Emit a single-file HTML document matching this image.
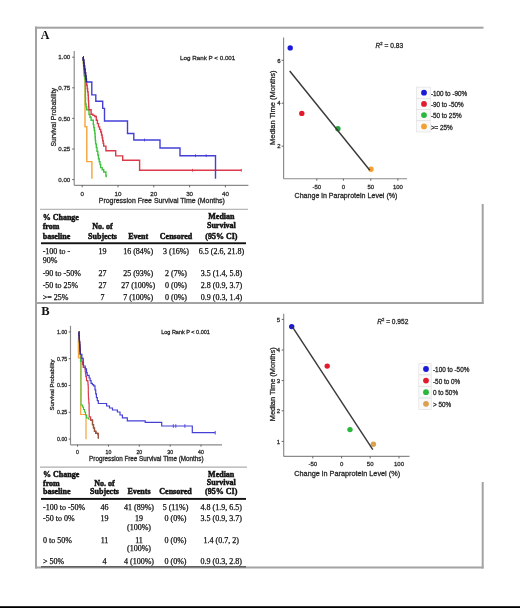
<!DOCTYPE html>
<html><head><meta charset="utf-8"><style>
html,body{margin:0;padding:0;background:#fff;}
svg{display:block;filter:blur(0.5px);}
</style></head><body>
<svg width="520" height="608" viewBox="0 0 520 608">
<rect x="0" y="0" width="520" height="608" fill="#fff"/>
<rect x="35" y="26.7" width="448.5" height="2" fill="#a3a3a3"/>
<rect x="35" y="26.5" width="2" height="542" fill="#a3a3a3"/>
<rect x="481.7" y="204" width="2" height="100" fill="#a3a3a3"/>
<rect x="35" y="302" width="448.5" height="2" fill="#a3a3a3"/>
<rect x="481.7" y="482" width="2" height="86.5" fill="#a3a3a3"/>
<rect x="35" y="566.5" width="448.5" height="2" fill="#a3a3a3"/>
<rect x="0" y="606.2" width="520" height="1.8" fill="#000"/>
<text x="40.8" y="39.2" font-family="Liberation Serif, serif" font-weight="bold" font-size="12" fill="#111">A</text>
<text x="41.3" y="315" font-family="Liberation Serif, serif" font-weight="bold" font-size="12.5" fill="#111">B</text>
<line x1="74.2" y1="51" x2="74.2" y2="185.3" stroke="#8a8a8a" stroke-width="1.15"/>
<line x1="74.2" y1="185.3" x2="248.4" y2="185.3" stroke="#8a8a8a" stroke-width="1.15"/>
<line x1="72.2" y1="57.2" x2="74.2" y2="57.2" stroke="#555" stroke-width="0.9"/>
<text x="70.3" y="59.4" font-family="Liberation Sans, sans-serif" stroke="#2a2a2a" stroke-width="0.28" font-size="6.2" text-anchor="end" fill="#333">1.00</text>
<line x1="72.2" y1="87.8" x2="74.2" y2="87.8" stroke="#555" stroke-width="0.9"/>
<text x="70.3" y="90.0" font-family="Liberation Sans, sans-serif" stroke="#2a2a2a" stroke-width="0.28" font-size="6.2" text-anchor="end" fill="#333">0.75</text>
<line x1="72.2" y1="118.4" x2="74.2" y2="118.4" stroke="#555" stroke-width="0.9"/>
<text x="70.3" y="120.6" font-family="Liberation Sans, sans-serif" stroke="#2a2a2a" stroke-width="0.28" font-size="6.2" text-anchor="end" fill="#333">0.50</text>
<line x1="72.2" y1="149" x2="74.2" y2="149" stroke="#555" stroke-width="0.9"/>
<text x="70.3" y="151.2" font-family="Liberation Sans, sans-serif" stroke="#2a2a2a" stroke-width="0.28" font-size="6.2" text-anchor="end" fill="#333">0.25</text>
<line x1="72.2" y1="179.6" x2="74.2" y2="179.6" stroke="#555" stroke-width="0.9"/>
<text x="70.3" y="181.8" font-family="Liberation Sans, sans-serif" stroke="#2a2a2a" stroke-width="0.28" font-size="6.2" text-anchor="end" fill="#333">0.00</text>
<line x1="82.2" y1="185.3" x2="82.2" y2="187.3" stroke="#555" stroke-width="0.9"/>
<text x="82.2" y="195.8" font-family="Liberation Sans, sans-serif" stroke="#2a2a2a" stroke-width="0.28" font-size="6.2" text-anchor="middle" fill="#333">0</text>
<line x1="118" y1="185.3" x2="118" y2="187.3" stroke="#555" stroke-width="0.9"/>
<text x="118" y="195.8" font-family="Liberation Sans, sans-serif" stroke="#2a2a2a" stroke-width="0.28" font-size="6.2" text-anchor="middle" fill="#333">10</text>
<line x1="153.8" y1="185.3" x2="153.8" y2="187.3" stroke="#555" stroke-width="0.9"/>
<text x="153.8" y="195.8" font-family="Liberation Sans, sans-serif" stroke="#2a2a2a" stroke-width="0.28" font-size="6.2" text-anchor="middle" fill="#333">20</text>
<line x1="189.6" y1="185.3" x2="189.6" y2="187.3" stroke="#555" stroke-width="0.9"/>
<text x="189.6" y="195.8" font-family="Liberation Sans, sans-serif" stroke="#2a2a2a" stroke-width="0.28" font-size="6.2" text-anchor="middle" fill="#333">30</text>
<line x1="225.4" y1="185.3" x2="225.4" y2="187.3" stroke="#555" stroke-width="0.9"/>
<text x="225.4" y="195.8" font-family="Liberation Sans, sans-serif" stroke="#2a2a2a" stroke-width="0.28" font-size="6.2" text-anchor="middle" fill="#333">40</text>
<text x="161.8" y="203.0" font-family="Liberation Sans, sans-serif" stroke="#2a2a2a" stroke-width="0.28" font-size="6.95" text-anchor="middle" fill="#222">Progression Free Survival Time (Months)</text>
<text transform="translate(56.1,117.3) rotate(-90)" font-family="Liberation Sans, sans-serif" stroke="#2a2a2a" stroke-width="0.28" font-size="6.9" text-anchor="middle" fill="#222">Survival Probability</text>
<polyline points="83.0,57.0 83.2,57.0 83.2,60.0 83.3,60.0 83.3,63.0 83.5,63.0 83.5,66.0 83.7,66.0 83.7,69.0 83.8,69.0 83.8,72.0 84.0,72.0 84.0,75.0 84.5,75.0 84.5,77.5 85.0,77.5 85.0,80.0 85.0,126.8 86.8,126.8 86.8,161.6 91.9,161.6 91.9,178.8" fill="none" stroke="#f4a43a" stroke-width="1.4" stroke-linejoin="miter"/>
<polyline points="83.0,57.0 83.2,57.0 83.2,60.2 83.5,60.2 83.5,63.3 83.8,63.3 83.8,66.5 84.0,66.5 84.0,69.7 84.2,69.7 84.2,72.8 84.5,72.8 84.5,76.0 84.9,76.0 84.9,79.0 85.3,79.0 85.3,82.0 85.3,82.0 85.3,85.1 85.4,85.1 85.4,88.3 85.4,88.3 85.4,91.4 85.4,91.4 85.4,94.6 85.4,94.6 85.4,97.7 85.5,97.7 85.5,100.9 85.5,100.9 85.5,104.0 86.1,104.0 86.1,106.9 86.7,106.9 86.7,109.8 89.0,109.8 89.0,114.5 90.0,114.5 90.0,117.3 91.1,117.3 91.1,120.2 93.3,120.2 93.3,124.6 93.8,124.6 93.8,127.6 94.3,127.6 94.3,130.5 94.8,130.5 94.8,133.5 95.1,133.5 95.1,137.0 95.3,137.0 95.3,140.4 95.6,140.4 95.6,143.9 96.3,143.9 96.3,147.6 97.0,147.6 97.0,151.3 97.8,151.3 97.8,155.0 98.5,155.0 98.5,158.7 99.2,158.7 99.2,161.7 100.0,161.7 100.0,164.6 100.7,164.6 100.7,167.6 102.2,167.6 102.2,169.8 103.7,169.8 103.7,172.0 105.9,172.0 105.9,175.7 106.2,175.7 106.2,177.2" fill="none" stroke="#3cc43c" stroke-width="1.4" stroke-linejoin="miter"/>
<polyline points="83.0,57.0 83.3,57.0 83.3,60.0 83.7,60.0 83.7,63.0 84.0,63.0 84.0,66.0 84.5,66.0 84.5,69.3 85.0,69.3 85.0,72.7 85.5,72.7 85.5,76.0 85.8,76.0 85.8,79.0 86.2,79.0 86.2,82.0 86.7,82.0 86.7,85.2 87.2,85.2 87.2,88.5 87.6,88.5 87.6,91.8 88.1,91.8 88.1,95.0 88.3,95.0 88.3,98.0 88.4,98.0 88.4,100.9 88.6,100.9 88.6,103.9 88.7,103.9 88.7,106.8 88.9,106.8 88.9,109.8 91.1,109.8 91.1,114.3 92.9,114.3 92.9,115.4 94.8,115.4 94.8,116.5 96.3,116.5 96.3,120.2 97.4,120.2 97.4,123.6 98.5,123.6 98.5,126.9 99.6,126.9 99.6,129.4 100.7,129.4 100.7,132.0 101.5,132.0 101.5,135.0 102.2,135.0 102.2,138.0 102.7,138.0 102.7,140.7 103.2,140.7 103.2,143.4 103.7,143.4 103.7,146.1 105.9,146.1 105.9,150.8 115.7,150.8 115.7,155.9 122.7,155.9 122.7,160.2 139.6,160.2 139.6,170.3 241.5,170.3" fill="none" stroke="#dc3a4a" stroke-width="1.4" stroke-linejoin="miter"/>
<polyline points="83.0,57.0 83.3,57.0 83.3,60.0 83.7,60.0 83.7,63.0 84.0,63.0 84.0,66.0 84.5,66.0 84.5,69.3 85.0,69.3 85.0,72.7 85.5,72.7 85.5,76.0 86.0,76.0 86.0,79.0 86.4,79.0 86.4,82.0 91.8,82.0 91.8,94.9 95.8,94.9 95.8,101.3 102.7,101.3 102.7,108.4 104.5,108.4 104.5,121.0 127.5,121.0 127.5,133.5 133.8,133.5 133.8,140.0 160.0,140.0 160.0,148.0 180.0,148.0 180.0,155.7 215.5,155.7 215.5,178.8" fill="none" stroke="#4440d6" stroke-width="1.4" stroke-linejoin="miter"/>
<polyline points="83.0,57.0 83.3,57.0 83.3,60.0 83.7,60.0 83.7,63.0 84.0,63.0 84.0,66.0 84.5,66.0 84.5,69.3 85.0,69.3 85.0,72.7 85.5,72.7 85.5,76.0 86.0,76.0 86.0,79.0 86.4,79.0 86.4,82.0" fill="none" stroke="#2c2a78" stroke-width="1.4" stroke-linejoin="miter"/>
<line x1="192.5" y1="168.9" x2="192.5" y2="171.70000000000002" stroke="#dc3a4a" stroke-width="0.9"/>
<line x1="241.3" y1="168.9" x2="241.3" y2="171.70000000000002" stroke="#dc3a4a" stroke-width="0.9"/>
<line x1="144.5" y1="138.6" x2="144.5" y2="141.4" stroke="#4440d6" stroke-width="0.9"/>
<line x1="195.5" y1="154.29999999999998" x2="195.5" y2="157.1" stroke="#4440d6" stroke-width="0.9"/>
<line x1="206.2" y1="154.29999999999998" x2="206.2" y2="157.1" stroke="#4440d6" stroke-width="0.9"/>
<text x="180" y="60.3" font-family="Liberation Sans, sans-serif" stroke="#2a2a2a" stroke-width="0.28" font-size="6.25" fill="#222">Log Rank P &lt; 0.001</text>
<line x1="283.6" y1="37.5" x2="283.6" y2="178.7" stroke="#8a8a8a" stroke-width="1.15"/>
<line x1="283.6" y1="178.7" x2="407" y2="178.7" stroke="#8a8a8a" stroke-width="1.15"/>
<line x1="281.6" y1="60.3" x2="283.6" y2="60.3" stroke="#555" stroke-width="0.9"/>
<text x="280.6" y="62.5" font-family="Liberation Sans, sans-serif" stroke="#2a2a2a" stroke-width="0.28" font-size="6" text-anchor="end" fill="#333">6</text>
<line x1="281.6" y1="103.2" x2="283.6" y2="103.2" stroke="#555" stroke-width="0.9"/>
<text x="280.6" y="105.4" font-family="Liberation Sans, sans-serif" stroke="#2a2a2a" stroke-width="0.28" font-size="6" text-anchor="end" fill="#333">4</text>
<line x1="281.6" y1="146.2" x2="283.6" y2="146.2" stroke="#555" stroke-width="0.9"/>
<text x="280.6" y="148.4" font-family="Liberation Sans, sans-serif" stroke="#2a2a2a" stroke-width="0.28" font-size="6" text-anchor="end" fill="#333">2</text>
<line x1="316.8" y1="178.7" x2="316.8" y2="180.7" stroke="#555" stroke-width="0.9"/>
<text x="316.8" y="189.3" font-family="Liberation Sans, sans-serif" stroke="#2a2a2a" stroke-width="0.28" font-size="6" text-anchor="middle" fill="#333">-50</text>
<line x1="343.4" y1="178.7" x2="343.4" y2="180.7" stroke="#555" stroke-width="0.9"/>
<text x="343.4" y="189.3" font-family="Liberation Sans, sans-serif" stroke="#2a2a2a" stroke-width="0.28" font-size="6" text-anchor="middle" fill="#333">0</text>
<line x1="370.8" y1="178.7" x2="370.8" y2="180.7" stroke="#555" stroke-width="0.9"/>
<text x="370.8" y="189.3" font-family="Liberation Sans, sans-serif" stroke="#2a2a2a" stroke-width="0.28" font-size="6" text-anchor="middle" fill="#333">50</text>
<line x1="397.9" y1="178.7" x2="397.9" y2="180.7" stroke="#555" stroke-width="0.9"/>
<text x="397.9" y="189.3" font-family="Liberation Sans, sans-serif" stroke="#2a2a2a" stroke-width="0.28" font-size="6" text-anchor="middle" fill="#333">100</text>
<text x="346" y="197.6" font-family="Liberation Sans, sans-serif" stroke="#2a2a2a" stroke-width="0.28" font-size="7.1" text-anchor="middle" fill="#222">Change in Paraprotein Level (%)</text>
<text transform="translate(274.5,107.7) rotate(-90)" font-family="Liberation Sans, sans-serif" stroke="#2a2a2a" stroke-width="0.28" font-size="7.5" text-anchor="middle" fill="#222">Median Time (Months)</text>
<circle cx="290.2" cy="47.9" r="2.7" fill="#1a1ad8"/>
<circle cx="301.8" cy="113.4" r="2.7" fill="#e21a2e"/>
<circle cx="337.9" cy="128.8" r="2.7" fill="#22a83a"/>
<circle cx="371" cy="169.3" r="2.7" fill="#f4a030"/>
<line x1="289.7" y1="71" x2="369.8" y2="170.2" stroke="#3a3a3a" stroke-width="1.45"/>
<text x="375.6" y="47.7" font-family="Liberation Sans, sans-serif" stroke="#2a2a2a" stroke-width="0.28" font-size="6.6" fill="#222"><tspan font-style="italic">R</tspan><tspan font-size="4.2" dy="-2.8">2</tspan><tspan dy="2.8"> = 0.83</tspan></text>
<rect x="416.4" y="87.10000000000001" width="13.8" height="11.2" fill="#fafafa" stroke="#dedede" stroke-width="0.6"/>
<circle cx="424" cy="92.7" r="2.9" fill="#1a1ad8"/>
<text x="430.9" y="95.8" font-family="Liberation Sans, sans-serif" stroke="#2a2a2a" stroke-width="0.28" font-size="6.35" fill="#222">-100 to -90%</text>
<rect x="416.4" y="98.30000000000001" width="13.8" height="11.2" fill="#fafafa" stroke="#dedede" stroke-width="0.6"/>
<circle cx="424" cy="103.9" r="2.9" fill="#e21a2e"/>
<text x="430.9" y="107.0" font-family="Liberation Sans, sans-serif" stroke="#2a2a2a" stroke-width="0.28" font-size="6.35" fill="#222">-90 to -50%</text>
<rect x="416.4" y="109.5" width="13.8" height="11.2" fill="#fafafa" stroke="#dedede" stroke-width="0.6"/>
<circle cx="424" cy="115.1" r="2.9" fill="#2ab83a"/>
<text x="430.9" y="118.2" font-family="Liberation Sans, sans-serif" stroke="#2a2a2a" stroke-width="0.28" font-size="6.35" fill="#222">-50 to 25%</text>
<rect x="416.4" y="120.80000000000001" width="13.8" height="11.2" fill="#fafafa" stroke="#dedede" stroke-width="0.6"/>
<circle cx="424" cy="126.4" r="2.9" fill="#f4a030"/>
<text x="430.9" y="129.5" font-family="Liberation Sans, sans-serif" stroke="#2a2a2a" stroke-width="0.28" font-size="6.35" fill="#222">&gt;= 25%</text>
<rect x="40" y="208.8" width="208" height="0.9" fill="#9a9a9a"/>
<rect x="41" y="242.3" width="205" height="1.9" fill="#111"/>
<text x="42.7" y="220.2" font-family="Liberation Serif, serif" font-size="8" font-weight="bold" text-anchor="start" fill="#111" stroke="#111" stroke-width="0.45">% Change</text>
<text x="42.7" y="229.4" font-family="Liberation Serif, serif" font-size="8" font-weight="bold" text-anchor="start" fill="#111" stroke="#111" stroke-width="0.45">from</text>
<text x="42.7" y="238.8" font-family="Liberation Serif, serif" font-size="8" font-weight="bold" text-anchor="start" fill="#111" stroke="#111" stroke-width="0.45">baseline</text>
<text x="102.5" y="229.4" font-family="Liberation Serif, serif" font-size="8" font-weight="bold" text-anchor="middle" fill="#111" stroke="#111" stroke-width="0.45">No. of</text>
<text x="102.5" y="238.8" font-family="Liberation Serif, serif" font-size="8" font-weight="bold" text-anchor="middle" fill="#111" stroke="#111" stroke-width="0.45">Subjects</text>
<text x="138.2" y="238.8" font-family="Liberation Serif, serif" font-size="8" font-weight="bold" text-anchor="middle" fill="#111" stroke="#111" stroke-width="0.45">Event</text>
<text x="176" y="238.8" font-family="Liberation Serif, serif" font-size="8" font-weight="bold" text-anchor="middle" fill="#111" stroke="#111" stroke-width="0.45">Censored</text>
<text x="221.4" y="218.8" font-family="Liberation Serif, serif" font-size="8" font-weight="bold" text-anchor="middle" fill="#111" stroke="#111" stroke-width="0.45">Median</text>
<text x="221.4" y="228.3" font-family="Liberation Serif, serif" font-size="8" font-weight="bold" text-anchor="middle" fill="#111" stroke="#111" stroke-width="0.45">Survival</text>
<text x="221.4" y="238.8" font-family="Liberation Serif, serif" font-size="8" font-weight="bold" text-anchor="middle" fill="#111" stroke="#111" stroke-width="0.45">(95% CI)</text>
<text x="42.7" y="254.2" font-family="Liberation Serif, serif" font-size="8" text-anchor="start" fill="#111" stroke="#111" stroke-width="0.25">-100 to -</text>
<text x="102.5" y="254.2" font-family="Liberation Serif, serif" font-size="8" text-anchor="middle" fill="#111" stroke="#111" stroke-width="0.25">19</text>
<text x="138.2" y="254.2" font-family="Liberation Serif, serif" font-size="8" text-anchor="middle" fill="#111" stroke="#111" stroke-width="0.25">16 (84%)</text>
<text x="176" y="254.2" font-family="Liberation Serif, serif" font-size="8" text-anchor="middle" fill="#111" stroke="#111" stroke-width="0.25">3 (16%)</text>
<text x="221.4" y="254.2" font-family="Liberation Serif, serif" font-size="8" text-anchor="middle" fill="#111" stroke="#111" stroke-width="0.25">6.5 (2.6, 21.8)</text>
<text x="42.7" y="263.3" font-family="Liberation Serif, serif" font-size="8" text-anchor="start" fill="#111" stroke="#111" stroke-width="0.25">90%</text>
<text x="42.7" y="275.8" font-family="Liberation Serif, serif" font-size="8" text-anchor="start" fill="#111" stroke="#111" stroke-width="0.25">-90 to -50%</text>
<text x="102.5" y="275.8" font-family="Liberation Serif, serif" font-size="8" text-anchor="middle" fill="#111" stroke="#111" stroke-width="0.25">27</text>
<text x="138.2" y="275.8" font-family="Liberation Serif, serif" font-size="8" text-anchor="middle" fill="#111" stroke="#111" stroke-width="0.25">25 (93%)</text>
<text x="176" y="275.8" font-family="Liberation Serif, serif" font-size="8" text-anchor="middle" fill="#111" stroke="#111" stroke-width="0.25">2 (7%)</text>
<text x="221.4" y="275.8" font-family="Liberation Serif, serif" font-size="8" text-anchor="middle" fill="#111" stroke="#111" stroke-width="0.25">3.5 (1.4, 5.8)</text>
<text x="42.7" y="287.9" font-family="Liberation Serif, serif" font-size="8" text-anchor="start" fill="#111" stroke="#111" stroke-width="0.25">-50 to 25%</text>
<text x="102.5" y="287.9" font-family="Liberation Serif, serif" font-size="8" text-anchor="middle" fill="#111" stroke="#111" stroke-width="0.25">27</text>
<text x="138.2" y="287.9" font-family="Liberation Serif, serif" font-size="8" text-anchor="middle" fill="#111" stroke="#111" stroke-width="0.25">27 (100%)</text>
<text x="176" y="287.9" font-family="Liberation Serif, serif" font-size="8" text-anchor="middle" fill="#111" stroke="#111" stroke-width="0.25">0 (0%)</text>
<text x="221.4" y="287.9" font-family="Liberation Serif, serif" font-size="8" text-anchor="middle" fill="#111" stroke="#111" stroke-width="0.25">2.8 (0.9, 3.7)</text>
<text x="42.7" y="299.8" font-family="Liberation Serif, serif" font-size="8" text-anchor="start" fill="#111" stroke="#111" stroke-width="0.25">&gt;= 25%</text>
<text x="102.5" y="299.8" font-family="Liberation Serif, serif" font-size="8" text-anchor="middle" fill="#111" stroke="#111" stroke-width="0.25">7</text>
<text x="138.2" y="299.8" font-family="Liberation Serif, serif" font-size="8" text-anchor="middle" fill="#111" stroke="#111" stroke-width="0.25">7 (100%)</text>
<text x="176" y="299.8" font-family="Liberation Serif, serif" font-size="8" text-anchor="middle" fill="#111" stroke="#111" stroke-width="0.25">0 (0%)</text>
<text x="221.4" y="299.8" font-family="Liberation Serif, serif" font-size="8" text-anchor="middle" fill="#111" stroke="#111" stroke-width="0.25">0.9 (0.3, 1.4)</text>
<line x1="70.5" y1="325.8" x2="70.5" y2="444.8" stroke="#8a8a8a" stroke-width="1.15"/>
<line x1="70.5" y1="444.8" x2="222" y2="444.8" stroke="#8a8a8a" stroke-width="1.15"/>
<line x1="68.7" y1="331.9" x2="70.5" y2="331.9" stroke="#555" stroke-width="0.9"/>
<text x="67.2" y="333.8" font-family="Liberation Sans, sans-serif" stroke="#2a2a2a" stroke-width="0.28" font-size="5.2" text-anchor="end" fill="#333">1.00</text>
<line x1="68.7" y1="358.7" x2="70.5" y2="358.7" stroke="#555" stroke-width="0.9"/>
<text x="67.2" y="360.6" font-family="Liberation Sans, sans-serif" stroke="#2a2a2a" stroke-width="0.28" font-size="5.2" text-anchor="end" fill="#333">0.75</text>
<line x1="68.7" y1="385.5" x2="70.5" y2="385.5" stroke="#555" stroke-width="0.9"/>
<text x="67.2" y="387.4" font-family="Liberation Sans, sans-serif" stroke="#2a2a2a" stroke-width="0.28" font-size="5.2" text-anchor="end" fill="#333">0.50</text>
<line x1="68.7" y1="412.3" x2="70.5" y2="412.3" stroke="#555" stroke-width="0.9"/>
<text x="67.2" y="414.2" font-family="Liberation Sans, sans-serif" stroke="#2a2a2a" stroke-width="0.28" font-size="5.2" text-anchor="end" fill="#333">0.25</text>
<line x1="68.7" y1="439.1" x2="70.5" y2="439.1" stroke="#555" stroke-width="0.9"/>
<text x="67.2" y="441.0" font-family="Liberation Sans, sans-serif" stroke="#2a2a2a" stroke-width="0.28" font-size="5.2" text-anchor="end" fill="#333">0.00</text>
<line x1="77.5" y1="444.8" x2="77.5" y2="446.6" stroke="#555" stroke-width="0.9"/>
<text x="77.5" y="453.9" font-family="Liberation Sans, sans-serif" stroke="#2a2a2a" stroke-width="0.28" font-size="5.2" text-anchor="middle" fill="#333">0</text>
<line x1="108.5" y1="444.8" x2="108.5" y2="446.6" stroke="#555" stroke-width="0.9"/>
<text x="108.5" y="453.9" font-family="Liberation Sans, sans-serif" stroke="#2a2a2a" stroke-width="0.28" font-size="5.2" text-anchor="middle" fill="#333">10</text>
<line x1="139.3" y1="444.8" x2="139.3" y2="446.6" stroke="#555" stroke-width="0.9"/>
<text x="139.3" y="453.9" font-family="Liberation Sans, sans-serif" stroke="#2a2a2a" stroke-width="0.28" font-size="5.2" text-anchor="middle" fill="#333">20</text>
<line x1="170.2" y1="444.8" x2="170.2" y2="446.6" stroke="#555" stroke-width="0.9"/>
<text x="170.2" y="453.9" font-family="Liberation Sans, sans-serif" stroke="#2a2a2a" stroke-width="0.28" font-size="5.2" text-anchor="middle" fill="#333">30</text>
<line x1="201" y1="444.8" x2="201" y2="446.6" stroke="#555" stroke-width="0.9"/>
<text x="201" y="453.9" font-family="Liberation Sans, sans-serif" stroke="#2a2a2a" stroke-width="0.28" font-size="5.2" text-anchor="middle" fill="#333">40</text>
<text x="146.3" y="460.9" font-family="Liberation Sans, sans-serif" stroke="#2a2a2a" stroke-width="0.28" font-size="6.3" text-anchor="middle" fill="#222">Progression Free Survival Time (Months)</text>
<text transform="translate(54.2,385) rotate(-90)" font-family="Liberation Sans, sans-serif" stroke="#2a2a2a" stroke-width="0.28" font-size="6.0" text-anchor="middle" fill="#222">Survival Probability</text>
<polyline points="78.8,331.9 78.7,331.9 78.7,335.2 78.5,335.2 78.5,338.4 78.4,338.4 78.4,341.7 78.3,341.7 78.3,345.0 78.3,345.0 78.3,348.2 78.3,348.2 78.3,351.5 78.4,351.5 78.4,354.8 78.4,354.8 78.4,358.0 80.7,358.0 80.7,414.5 86.0,414.5 86.0,439.2" fill="none" stroke="#f4a43a" stroke-width="1.2" stroke-linejoin="miter"/>
<polyline points="78.8,331.9 79.0,331.9 79.0,335.1 79.1,335.1 79.1,338.2 79.3,338.2 79.3,341.4 79.5,341.4 79.5,344.5 79.7,344.5 79.7,347.7 79.8,347.7 79.8,350.8 80.0,350.8 80.0,354.0 80.3,354.0 80.3,357.6 80.5,357.6 80.5,361.2 80.8,361.2 80.8,364.8 80.8,364.8 80.8,367.9 80.8,367.9 80.8,371.0 80.8,371.0 80.8,374.1 80.8,374.1 80.8,377.2 80.8,377.2 80.8,380.3 80.8,380.3 80.8,383.4 80.9,383.4 80.9,386.4 80.9,386.4 80.9,389.5 80.9,389.5 80.9,392.6 80.9,392.6 80.9,395.7 80.9,395.7 80.9,398.8 80.9,398.8 80.9,401.9 80.9,401.9 80.9,405.0 82.5,405.0 82.5,407.0 83.5,407.0 83.5,409.5 84.5,409.5 84.5,412.0 85.5,412.0 85.5,415.0 86.6,415.0 86.6,418.0 88.5,418.0 88.5,419.0 90.6,419.0 90.6,420.1 92.5,420.1 92.5,424.7 93.5,424.7 93.5,428.0 94.5,428.0 94.5,431.3 95.8,431.3 95.8,433.3 97.8,433.3 97.8,434.0 98.4,434.0 98.4,438.6" fill="none" stroke="#3cc43c" stroke-width="1.2" stroke-linejoin="miter"/>
<polyline points="78.8,331.9 79.0,331.9 79.0,335.1 79.2,335.1 79.2,338.3 79.4,338.3 79.4,341.5 79.7,341.5 79.7,344.7 79.9,344.7 79.9,347.9 80.1,347.9 80.1,351.1 80.3,351.1 80.3,354.3 81.2,354.3 81.2,358.3 81.9,358.3 81.9,361.4 82.5,361.4 82.5,364.4 83.2,364.4 83.2,367.5 85.2,367.5 85.2,371.4 85.5,371.4 85.5,374.0 85.8,374.0 85.8,376.7 86.5,376.7 86.5,380.6 87.8,380.6 87.8,382.0 88.0,382.0 88.0,384.6 88.2,384.6 88.2,387.2 88.3,387.2 88.3,390.1 88.3,390.1 88.3,393.1 88.4,393.1 88.4,396.1 88.5,396.1 88.5,399.0 88.8,399.0 88.8,403.0 89.1,403.0 89.1,407.0 89.1,407.0 89.1,410.3 89.2,410.3 89.2,413.5 89.2,413.5 89.2,416.8 90.6,416.8 90.6,420.1 92.5,420.1 92.5,424.7 93.5,424.7 93.5,428.0 94.5,428.0 94.5,431.3 95.8,431.3 95.8,433.3 97.8,433.3 97.8,434.0 98.4,434.0 98.4,438.6" fill="none" stroke="#dc3a4a" stroke-width="1.2" stroke-linejoin="miter"/>
<polyline points="78.8,331.9 79.0,331.9 79.0,335.1 79.2,335.1 79.2,338.3 79.4,338.3 79.4,341.5 79.7,341.5 79.7,344.7 79.9,344.7 79.9,347.9 80.1,347.9 80.1,351.1 80.3,351.1 80.3,354.3 81.9,354.3 81.9,358.3 83.2,358.3 83.2,359.6 83.3,359.6 83.3,362.8 83.5,362.8 83.5,366.0 85.2,366.0 85.2,368.8 86.5,368.8 86.5,372.7 87.2,372.7 87.2,375.4 89.1,375.4 89.1,378.0 90.1,378.0 90.1,380.6 91.1,380.6 91.1,383.3 92.4,383.3 92.4,384.6 93.7,384.6 93.7,385.9 95.0,385.9 95.0,389.8 95.7,389.8 95.7,393.8 96.4,393.8 96.4,397.7 97.3,397.7 97.3,400.6 98.3,400.6 98.3,403.5 106.6,403.5 106.6,406.0 109.5,406.0 109.5,408.0 112.5,408.0 112.5,410.0 117.4,410.0 117.4,412.0 120.0,412.0 120.0,415.0 122.4,415.0 122.4,417.9 127.3,417.9 127.3,420.8 145.2,420.8 145.2,422.4 161.7,422.4 161.7,426.0 192.3,426.0 192.3,432.7 215.2,432.7" fill="none" stroke="#4440d6" stroke-width="1.2" stroke-linejoin="miter"/>
<polyline points="78.8,331.9 79.0,331.9 79.0,335.6 79.3,335.6 79.3,339.3 79.5,339.3 79.5,343.0 79.7,343.0 79.7,345.8 79.9,345.8 79.9,348.6 80.1,348.6 80.1,351.5 80.3,351.5 80.3,354.3" fill="none" stroke="#3a2a72" stroke-width="1.2" stroke-linejoin="miter"/>
<polyline points="80.8,362.0 80.8,405.0" fill="none" stroke="#a8bc5c" stroke-width="1.2" stroke-linejoin="miter"/>
<polyline points="90.6,420.1 92.5,420.1 92.5,424.7 93.5,424.7 93.5,428.0 94.5,428.0 94.5,431.3 95.8,431.3 95.8,433.3 97.8,433.3 97.8,434.0 98.4,434.0 98.4,438.6" fill="none" stroke="#9a5540" stroke-width="1.2" stroke-linejoin="miter"/>
<line x1="173.3" y1="424.2" x2="173.3" y2="427.8" stroke="#4440d6" stroke-width="0.9"/>
<line x1="175.8" y1="424.2" x2="175.8" y2="427.8" stroke="#4440d6" stroke-width="0.9"/>
<line x1="184.9" y1="424.2" x2="184.9" y2="427.8" stroke="#4440d6" stroke-width="0.9"/>
<line x1="215.2" y1="430.9" x2="215.2" y2="434.5" stroke="#4440d6" stroke-width="0.9"/>
<text x="161.2" y="333.6" font-family="Liberation Sans, sans-serif" stroke="#2a2a2a" stroke-width="0.28" font-size="5.5" fill="#222">Log Rank P &lt; 0.001</text>
<line x1="283.7" y1="313.7" x2="283.7" y2="456.4" stroke="#8a8a8a" stroke-width="1.15"/>
<line x1="283.7" y1="456.4" x2="409.5" y2="456.4" stroke="#8a8a8a" stroke-width="1.15"/>
<line x1="281.7" y1="319.4" x2="283.7" y2="319.4" stroke="#555" stroke-width="0.9"/>
<text x="280" y="321.6" font-family="Liberation Sans, sans-serif" stroke="#2a2a2a" stroke-width="0.28" font-size="6" text-anchor="end" fill="#333">5</text>
<line x1="281.7" y1="350" x2="283.7" y2="350" stroke="#555" stroke-width="0.9"/>
<text x="280" y="352.2" font-family="Liberation Sans, sans-serif" stroke="#2a2a2a" stroke-width="0.28" font-size="6" text-anchor="end" fill="#333">4</text>
<line x1="281.7" y1="380.6" x2="283.7" y2="380.6" stroke="#555" stroke-width="0.9"/>
<text x="280" y="382.8" font-family="Liberation Sans, sans-serif" stroke="#2a2a2a" stroke-width="0.28" font-size="6" text-anchor="end" fill="#333">3</text>
<line x1="281.7" y1="410.8" x2="283.7" y2="410.8" stroke="#555" stroke-width="0.9"/>
<text x="280" y="413.0" font-family="Liberation Sans, sans-serif" stroke="#2a2a2a" stroke-width="0.28" font-size="6" text-anchor="end" fill="#333">2</text>
<line x1="281.7" y1="441.4" x2="283.7" y2="441.4" stroke="#555" stroke-width="0.9"/>
<text x="280" y="443.6" font-family="Liberation Sans, sans-serif" stroke="#2a2a2a" stroke-width="0.28" font-size="6" text-anchor="end" fill="#333">1</text>
<line x1="312.8" y1="456.4" x2="312.8" y2="458.4" stroke="#555" stroke-width="0.9"/>
<text x="312.8" y="466.4" font-family="Liberation Sans, sans-serif" stroke="#2a2a2a" stroke-width="0.28" font-size="6" text-anchor="middle" fill="#333">-50</text>
<line x1="341.6" y1="456.4" x2="341.6" y2="458.4" stroke="#555" stroke-width="0.9"/>
<text x="341.6" y="466.4" font-family="Liberation Sans, sans-serif" stroke="#2a2a2a" stroke-width="0.28" font-size="6" text-anchor="middle" fill="#333">0</text>
<line x1="370.2" y1="456.4" x2="370.2" y2="458.4" stroke="#555" stroke-width="0.9"/>
<text x="370.2" y="466.4" font-family="Liberation Sans, sans-serif" stroke="#2a2a2a" stroke-width="0.28" font-size="6" text-anchor="middle" fill="#333">50</text>
<line x1="399" y1="456.4" x2="399" y2="458.4" stroke="#555" stroke-width="0.9"/>
<text x="399" y="466.4" font-family="Liberation Sans, sans-serif" stroke="#2a2a2a" stroke-width="0.28" font-size="6" text-anchor="middle" fill="#333">100</text>
<text x="347.2" y="476" font-family="Liberation Sans, sans-serif" stroke="#2a2a2a" stroke-width="0.28" font-size="7.3" text-anchor="middle" fill="#222">Change in Paraprotein Level (%)</text>
<text transform="translate(274.8,384.3) rotate(-90)" font-family="Liberation Sans, sans-serif" stroke="#2a2a2a" stroke-width="0.28" font-size="7.45" text-anchor="middle" fill="#222">Median Time (Months)</text>
<circle cx="291.7" cy="326.6" r="2.7" fill="#1a1ad8"/>
<circle cx="327.2" cy="366.1" r="2.7" fill="#e21a2e"/>
<circle cx="350" cy="429.6" r="2.7" fill="#2ab83a"/>
<circle cx="373.4" cy="444.3" r="2.7" fill="#dda050"/>
<line x1="292.4" y1="326.8" x2="372.8" y2="449.6" stroke="#3a3a3a" stroke-width="1.45"/>
<text x="377.2" y="324.2" font-family="Liberation Sans, sans-serif" stroke="#2a2a2a" stroke-width="0.28" font-size="6.6" fill="#222"><tspan font-style="italic">R</tspan><tspan font-size="4.2" dy="-2.8">2</tspan><tspan dy="2.8"> = 0.952</tspan></text>
<rect x="418.8" y="363.4" width="12.4" height="11.2" fill="#fafafa" stroke="#dedede" stroke-width="0.6"/>
<circle cx="426" cy="369" r="2.9" fill="#1a1ad8"/>
<text x="433" y="372.1" font-family="Liberation Sans, sans-serif" stroke="#2a2a2a" stroke-width="0.28" font-size="6.35" fill="#222">-100 to -50%</text>
<rect x="418.8" y="375.0" width="12.4" height="11.2" fill="#fafafa" stroke="#dedede" stroke-width="0.6"/>
<circle cx="426" cy="380.6" r="2.9" fill="#e21a2e"/>
<text x="433" y="383.7" font-family="Liberation Sans, sans-serif" stroke="#2a2a2a" stroke-width="0.28" font-size="6.35" fill="#222">-50 to 0%</text>
<rect x="418.8" y="386.59999999999997" width="12.4" height="11.2" fill="#fafafa" stroke="#dedede" stroke-width="0.6"/>
<circle cx="426" cy="392.2" r="2.9" fill="#2ab83a"/>
<text x="433" y="395.3" font-family="Liberation Sans, sans-serif" stroke="#2a2a2a" stroke-width="0.28" font-size="6.35" fill="#222">0 to 50%</text>
<rect x="418.8" y="398.2" width="12.4" height="11.2" fill="#fafafa" stroke="#dedede" stroke-width="0.6"/>
<circle cx="426" cy="403.8" r="2.9" fill="#dda050"/>
<text x="433" y="406.9" font-family="Liberation Sans, sans-serif" stroke="#2a2a2a" stroke-width="0.28" font-size="6.35" fill="#222">&gt; 50%</text>
<rect x="40" y="466.6" width="207" height="1" fill="#9a9a9a"/>
<rect x="41" y="497.95" width="205" height="1.9" fill="#111"/>
<rect x="41" y="566.3" width="205" height="1" fill="#333"/>
<text x="43" y="477" font-family="Liberation Serif, serif" font-size="8" font-weight="bold" text-anchor="start" fill="#111" stroke="#111" stroke-width="0.45">% Change</text>
<text x="43" y="485.7" font-family="Liberation Serif, serif" font-size="8" font-weight="bold" text-anchor="start" fill="#111" stroke="#111" stroke-width="0.45">from</text>
<text x="43" y="494.4" font-family="Liberation Serif, serif" font-size="8" font-weight="bold" text-anchor="start" fill="#111" stroke="#111" stroke-width="0.45">baseline</text>
<text x="104.5" y="485.7" font-family="Liberation Serif, serif" font-size="8" font-weight="bold" text-anchor="middle" fill="#111" stroke="#111" stroke-width="0.45">No. of</text>
<text x="104.5" y="494.4" font-family="Liberation Serif, serif" font-size="8" font-weight="bold" text-anchor="middle" fill="#111" stroke="#111" stroke-width="0.45">Subjects</text>
<text x="139" y="494.4" font-family="Liberation Serif, serif" font-size="8" font-weight="bold" text-anchor="middle" fill="#111" stroke="#111" stroke-width="0.45">Events</text>
<text x="175.5" y="494.4" font-family="Liberation Serif, serif" font-size="8" font-weight="bold" text-anchor="middle" fill="#111" stroke="#111" stroke-width="0.45">Censored</text>
<text x="221.2" y="476.7" font-family="Liberation Serif, serif" font-size="8" font-weight="bold" text-anchor="middle" fill="#111" stroke="#111" stroke-width="0.45">Median</text>
<text x="221.2" y="485.3" font-family="Liberation Serif, serif" font-size="8" font-weight="bold" text-anchor="middle" fill="#111" stroke="#111" stroke-width="0.45">Survival</text>
<text x="221.2" y="494.4" font-family="Liberation Serif, serif" font-size="8" font-weight="bold" text-anchor="middle" fill="#111" stroke="#111" stroke-width="0.45">(95% CI)</text>
<text x="43" y="509.6" font-family="Liberation Serif, serif" font-size="8" text-anchor="start" fill="#111" stroke="#111" stroke-width="0.25">-100 to -50%</text>
<text x="104.5" y="509.6" font-family="Liberation Serif, serif" font-size="8" text-anchor="middle" fill="#111" stroke="#111" stroke-width="0.25">46</text>
<text x="139" y="509.6" font-family="Liberation Serif, serif" font-size="8" text-anchor="middle" fill="#111" stroke="#111" stroke-width="0.25">41 (89%)</text>
<text x="175.5" y="509.6" font-family="Liberation Serif, serif" font-size="8" text-anchor="middle" fill="#111" stroke="#111" stroke-width="0.25">5 (11%)</text>
<text x="221.2" y="509.6" font-family="Liberation Serif, serif" font-size="8" text-anchor="middle" fill="#111" stroke="#111" stroke-width="0.25">4.8 (1.9, 6.5)</text>
<text x="43" y="521.3" font-family="Liberation Serif, serif" font-size="8" text-anchor="start" fill="#111" stroke="#111" stroke-width="0.25">-50 to 0%</text>
<text x="104.5" y="521.3" font-family="Liberation Serif, serif" font-size="8" text-anchor="middle" fill="#111" stroke="#111" stroke-width="0.25">19</text>
<text x="139" y="521.3" font-family="Liberation Serif, serif" font-size="8" text-anchor="middle" fill="#111" stroke="#111" stroke-width="0.25">19</text>
<text x="175.5" y="521.3" font-family="Liberation Serif, serif" font-size="8" text-anchor="middle" fill="#111" stroke="#111" stroke-width="0.25">0 (0%)</text>
<text x="221.2" y="521.3" font-family="Liberation Serif, serif" font-size="8" text-anchor="middle" fill="#111" stroke="#111" stroke-width="0.25">3.5 (0.9, 3.7)</text>
<text x="139" y="529.6" font-family="Liberation Serif, serif" font-size="8" text-anchor="middle" fill="#111" stroke="#111" stroke-width="0.25">(100%)</text>
<text x="43" y="543.3" font-family="Liberation Serif, serif" font-size="8" text-anchor="start" fill="#111" stroke="#111" stroke-width="0.25">0 to 50%</text>
<text x="104.5" y="543.3" font-family="Liberation Serif, serif" font-size="8" text-anchor="middle" fill="#111" stroke="#111" stroke-width="0.25">11</text>
<text x="139" y="543.3" font-family="Liberation Serif, serif" font-size="8" text-anchor="middle" fill="#111" stroke="#111" stroke-width="0.25">11</text>
<text x="175.5" y="543.3" font-family="Liberation Serif, serif" font-size="8" text-anchor="middle" fill="#111" stroke="#111" stroke-width="0.25">0 (0%)</text>
<text x="221.2" y="543.3" font-family="Liberation Serif, serif" font-size="8" text-anchor="middle" fill="#111" stroke="#111" stroke-width="0.25">1.4 (0.7, 2)</text>
<text x="139" y="551.3" font-family="Liberation Serif, serif" font-size="8" text-anchor="middle" fill="#111" stroke="#111" stroke-width="0.25">(100%)</text>
<text x="43" y="564.1" font-family="Liberation Serif, serif" font-size="8" text-anchor="start" fill="#111" stroke="#111" stroke-width="0.25">&gt; 50%</text>
<text x="104.5" y="564.1" font-family="Liberation Serif, serif" font-size="8" text-anchor="middle" fill="#111" stroke="#111" stroke-width="0.25">4</text>
<text x="139" y="564.1" font-family="Liberation Serif, serif" font-size="8" text-anchor="middle" fill="#111" stroke="#111" stroke-width="0.25">4 (100%)</text>
<text x="175.5" y="564.1" font-family="Liberation Serif, serif" font-size="8" text-anchor="middle" fill="#111" stroke="#111" stroke-width="0.25">0 (0%)</text>
<text x="221.2" y="564.1" font-family="Liberation Serif, serif" font-size="8" text-anchor="middle" fill="#111" stroke="#111" stroke-width="0.25">0.9 (0.3, 2.8)</text>
</svg>
</body></html>
